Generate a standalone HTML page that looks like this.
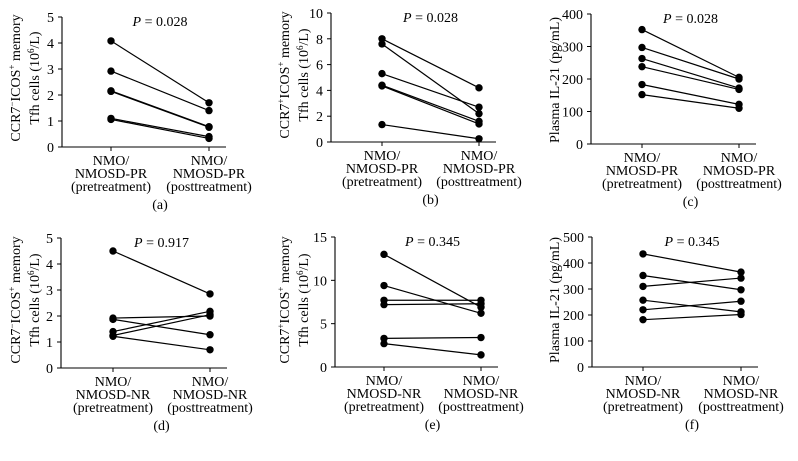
<!DOCTYPE html>
<html><head><meta charset="utf-8"><style>
html,body{margin:0;padding:0;background:#fff;}
svg{display:block;font-family:"Liberation Serif",serif;}
</style></head><body>
<svg id="fig" width="798" height="461" viewBox="0 0 798 461"></svg>
<script>
// Panel data (pre, post values)
const preA = [4.08, 2.92, 2.16, 2.14, 1.10, 1.06];
const postA = [1.70, 1.40, 0.78, 0.76, 0.40, 0.33];
const preB = [8.0, 7.6, 5.3, 4.4, 4.35, 1.35];
const postB = [4.2, 2.2, 2.7, 1.6, 1.4, 0.25];
const preC = [352, 297, 263, 238, 183, 152];
const postC = [205, 200, 172, 168, 122, 110];
const preD = [4.5, 1.92, 1.87, 1.4, 1.25, 1.22];
const postD = [2.85, 2.0, 1.28, 2.18, 2.05, 0.7];
const preE = [13.0, 9.4, 7.7, 7.2, 3.3, 2.7];
const postE = [6.9, 6.2, 7.7, 7.3, 3.4, 1.4];
const preF = [435, 352, 310, 257, 220, 182];
const postF = [365, 297, 342, 212, 253, 202];
const ticksA = [0,1,2,3,4,5];
const ticksB = [0,2,4,6,8,10];
const ticksC = [0,100,200,300,400];
const ticksD = [0,1,2,3,4,5];
const ticksE = [0,5,10,15];
const ticksF = [0,100,200,300,400,500];
const pvals = ["0.028","0.028","0.028","0.917","0.345","0.345"];
const groupTop = "NMOSD-PR", groupBot = "NMOSD-NR";

const NS = "http://www.w3.org/2000/svg";
const svg = document.getElementById('fig');
function mk(tag, attrs, parent, text){
  const e = document.createElementNS(NS, tag);
  for (const k in attrs) e.setAttribute(k, attrs[k]);
  if (text !== undefined) e.textContent = text;
  (parent||svg).appendChild(e);
  return e;
}
const panels = [
 {id:'a', ax:62, y0:147, ytop:17, xpre:111, xpost:209, pre:preA, post:postA, ticks:ticksA, grp:groupTop, title:['CCR7<tspan baseline-shift="super" font-size="9">−</tspan>ICOS<tspan baseline-shift="super" font-size="9">+</tspan> memory','Tfh cells (10<tspan baseline-shift="super" font-size="9">6</tspan>/L)'], tx:[16,35], tcy:78},
 {id:'b', ax:331, y0:142, ytop:13, xpre:382, xpost:479, pre:preB, post:postB, ticks:ticksB, grp:groupTop, title:['CCR7<tspan baseline-shift="super" font-size="9">+</tspan>ICOS<tspan baseline-shift="super" font-size="9">+</tspan> memory','Tfh cells (10<tspan baseline-shift="super" font-size="9">6</tspan>/L)'], tx:[285,304], tcy:75},
 {id:'c', ax:591, y0:144, ytop:14, xpre:642, xpost:739, pre:preC, post:postC, ticks:ticksC, grp:groupTop, title:['Plasma IL-21 (pg/mL)'], tx:[555], tcy:80},
 {id:'d', ax:61, y0:368, ytop:238, xpre:113, xpost:210, pre:preD, post:postD, ticks:ticksD, grp:groupBot, title:['CCR7<tspan baseline-shift="super" font-size="9">−</tspan>ICOS<tspan baseline-shift="super" font-size="9">+</tspan> memory','Tfh cells (10<tspan baseline-shift="super" font-size="9">6</tspan>/L)'], tx:[16,35], tcy:300},
 {id:'e', ax:335, y0:367, ytop:237, xpre:384, xpost:481, pre:preE, post:postE, ticks:ticksE, grp:groupBot, title:['CCR7<tspan baseline-shift="super" font-size="9">+</tspan>ICOS<tspan baseline-shift="super" font-size="9">+</tspan> memory','Tfh cells (10<tspan baseline-shift="super" font-size="9">6</tspan>/L)'], tx:[285,304], tcy:300},
 {id:'f', ax:592, y0:367, ytop:237, xpre:643, xpost:741, pre:preF, post:postF, ticks:ticksF, grp:groupBot, title:['Plasma IL-21 (pg/mL)'], tx:[555], tcy:300}
];
panels.forEach((p, pi) => {
  const g = mk('g', {});
  
  
  const tmax = p.ticks[p.ticks.length-1];
  const ys = v => p.y0 - (v / tmax) * (p.y0 - p.ytop);
  const yax = mk('line', {x1:p.ax, y1:p.ytop, x2:p.ax, y2:p.y0, stroke:'#000','stroke-width':1.1}, g);
  
  
  const xax = mk('line', {x1:p.ax, y1:p.y0, x2:p.xpost+17, y2:p.y0, stroke:'#000','stroke-width':1.1}, g);
  
  
  [p.xpre, p.xpost].forEach(x => mk('line', {x1:x, y1:p.y0, x2:x, y2:p.y0+4, stroke:'#000'}, g));
  p.ticks.forEach(t => {
    const y = ys(t);
    mk('line', {x1:p.ax-4, y1:y, x2:p.ax, y2:y, stroke:'#000'}, g);
    const tl = mk('text', {x:p.ax-8, y:y+5, 'text-anchor':'end', 'font-size':14}, g, String(t));
    
    
  });
  p.title.forEach((t, i) => {
    const tt = mk('text', {x:0, y:0, 'text-anchor':'middle', 'font-size':14, transform:`translate(${p.tx[i]+4},${p.tcy}) rotate(-90)`}, g);
    tt.innerHTML = t;
    
    
  });
  [[p.xpre,'(pretreatment)'],[p.xpost,'(posttreatment)']].forEach(([x, l]) => {
    const lines = ['NMO/', p.grp, l];
    lines.forEach((s, i) => {
      const xl = mk('text', {x:x, y:p.y0+18+i*13, 'text-anchor':'middle', 'font-size':14}, g, s);
      
      
    });
  });
  const pl = mk('text', {x:(p.xpre+p.xpost)/2, y:p.ytop+9, 'text-anchor':'middle', 'font-size':14}, g);
  pl.innerHTML = '<tspan font-style="italic">P</tspan> = ' + pvals[pi];
  
  
  const cap = mk('text', {x:(p.xpre+p.xpost)/2, y:p.y0+62, 'text-anchor':'middle', 'font-size':14}, g, '(' + p.id + ')');
  
  
  p.pre.forEach((v, i) => {
    const ln = mk('line', {x1:p.xpre, y1:ys(v), x2:p.xpost, y2:ys(p.post[i]), stroke:'#000','stroke-width':1.2}, g);
    
    
    const c1 = mk('circle', {cx:p.xpre, cy:ys(v), r:3.7, fill:'#000'}, g);
    
    
    const c2 = mk('circle', {cx:p.xpost, cy:ys(p.post[i]), r:3.7, fill:'#000'}, g);
    
    
  });
});
</script>
</body></html>
